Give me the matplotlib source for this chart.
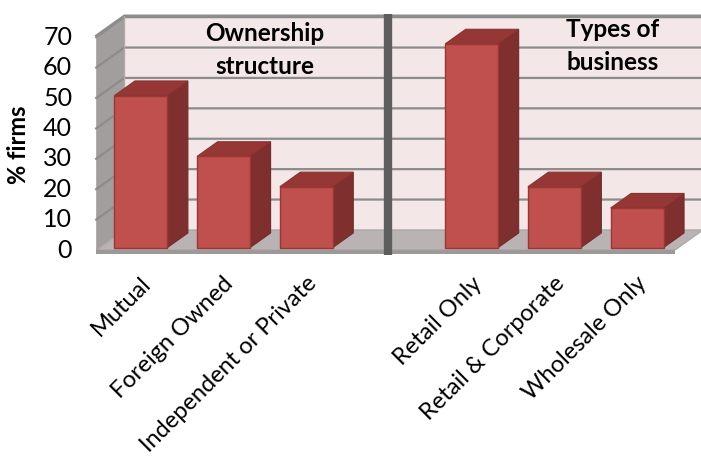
import matplotlib.pyplot as plt
from matplotlib.patches import Polygon
import numpy as np

plt.rcParams['font.family'] = ['Lato', 'DejaVu Sans']

# data
categories = ['Mutual', 'Foreign Owned', 'Independent or Private', '',
              'Retail Only', 'Retail & Corporate', 'Wholesale Only']
values = [50, 30, 20, None, 67, 20, 13]
yticks = [0, 10, 20, 30, 40, 50, 60, 70]
group_titles = ['Ownership\nstructure', 'Types of\nbusiness']
divider_slot = 3

# fake 3d: depth d in [0, 1] shifts a point right and up
DX, DY = 0.34, 6.6
def proj(x, v, d):
    return (x + d * DX, v + d * DY)

fig = plt.figure(figsize=(7.01, 4.59), dpi=100)
fig.patch.set_facecolor('white')
ax = fig.add_axes([0, 0, 1, 1])
ax.set_xlim(-1.663, 6.814)
ax.set_ylim(-68.75, 82.24)
ax.axis('off')

x0, x1 = -0.5, 6.5
vtop = 70.5
wall_c = '#F3E7E7'
side_c = '#A39E9E'
floor_c = '#B9B3B3'
grid_c = '#8C8C8C'

# back wall
ax.add_patch(Polygon([proj(x0, 0, 1), proj(x1, 0, 1), proj(x1, vtop, 1), proj(x0, vtop, 1)],
                     closed=True, fc=wall_c, ec='none', zorder=1))
# left side wall
ax.add_patch(Polygon([proj(x0, 0, 0), proj(x0, 0, 1), proj(x0, vtop, 1), proj(x0, vtop, 0)],
                     closed=True, fc=side_c, ec='none', zorder=1))
# floor and its front edge
ax.add_patch(Polygon([proj(x0, 0, 0), proj(x1, 0, 0), proj(x1, 0, 1), proj(x0, 0, 1)],
                     closed=True, fc=floor_c, ec='#A8A2A2', lw=0.8, zorder=1))
ax.add_patch(Polygon([proj(x0, -1.2, 0), proj(x1, -1.2, 0), proj(x1, 0, 0), proj(x0, 0, 0)],
                     closed=True, fc='#9E9999', ec='none', zorder=1))

# gridlines on back and side wall
for v in yticks[1:] + [vtop]:
    xs, ys = zip(proj(x0, v, 0), proj(x0, v, 1), proj(x1, v, 1))
    ax.plot(xs, ys, color=grid_c, lw=1.6, zorder=2)
xs, ys = zip(proj(x0, 0, 1), proj(x0, vtop, 1))
ax.plot(xs, ys, color='#B0ABAB', lw=1.0, zorder=2)

# bars
hw = 0.32
d0, d1 = 0.12, 0.85
front_c, right_c, top_c, edge_c = '#C0504D', '#7F2F2E', '#943735', '#9A3634'
for i, v in enumerate(values):
    if v is None:
        continue
    xl, xr = i - hw, i + hw
    side = [proj(xr, 0, d0), proj(xr, 0, d1), proj(xr, v, d1), proj(xr, v, d0)]
    top = [proj(xl, v, d0), proj(xr, v, d0), proj(xr, v, d1), proj(xl, v, d1)]
    front = [proj(xl, 0, d0), proj(xr, 0, d0), proj(xr, v, d0), proj(xl, v, d0)]
    ax.add_patch(Polygon(side, closed=True, fc=right_c, ec='#732B2A', lw=0.8, zorder=3))
    ax.add_patch(Polygon(top, closed=True, fc=top_c, ec='#8A3331', lw=0.8, zorder=3))
    ax.add_patch(Polygon(front, closed=True, fc=front_c, ec=edge_c, lw=1.0, zorder=4))

# divider between the two groups
xd = proj(divider_slot, 0, 0.1)[0]
ax.plot([xd, xd], [-1.6, 77.6], color='#5E5E5E', lw=6, solid_capstyle='butt', zorder=5)

# value axis labels
for v in yticks:
    ax.text(-0.79, v, str(v), ha='right', va='center', fontsize=18, color='black')
ax.text(-1.445, 34.5, '% firms', rotation=90, ha='center', va='center',
        fontsize=17, fontweight='bold')

# category labels
for i, lab in enumerate(categories):
    if not lab:
        continue
    ax.text(i + 0.03, -7.5, lab, rotation=45, ha='right', va='top',
            rotation_mode='anchor', fontsize=17)

# group titles
ax.text(1.54, 65.8, group_titles[0], ha='center', va='center', fontsize=17.5,
        fontweight='bold', linespacing=1.5)
ax.text(5.74, 67.1, group_titles[1], ha='center', va='center', fontsize=17.5,
        fontweight='bold', linespacing=1.5)

fig.savefig('out.png', dpi=100)
